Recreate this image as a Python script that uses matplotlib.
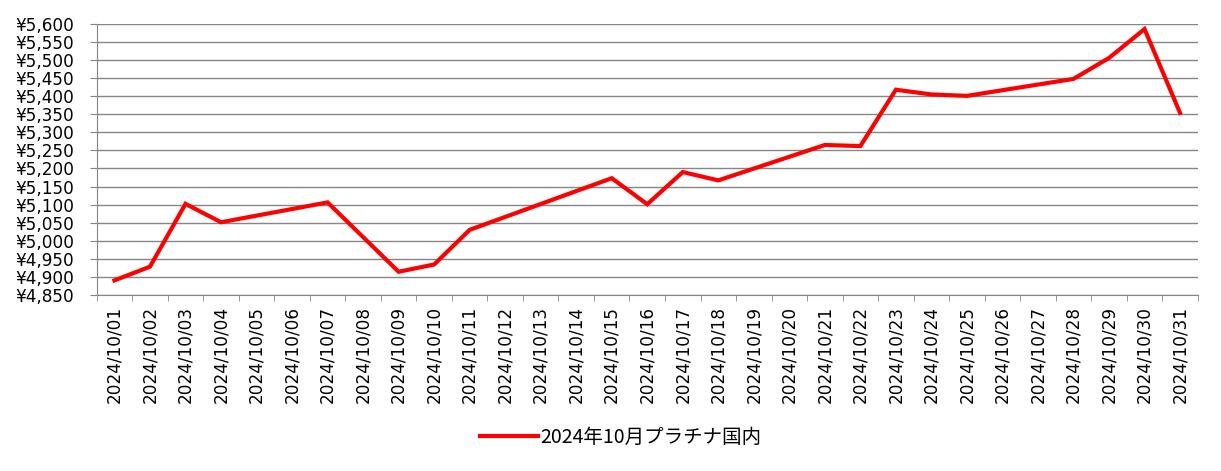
import numpy as np
import matplotlib
matplotlib.use("Agg")
import matplotlib.pyplot as plt
from matplotlib.ticker import FuncFormatter, MultipleLocator

plt.rcParams['font.family'] = ['Noto Sans CJK JP', 'DejaVu Sans']

# 日付ラベル（10月の全日）
dates = [f"2024/10/{d:02d}" for d in range(1, 32)]

# 価格（休日は None）
prices = [4890, 4928, 5102, 5051, None, None, 5106, 5010, 4914, 4934,
          5030, None, None, None, 5173, 5101, 5190, 5167, None, None,
          5265, 5262, 5418, 5405, 5401, None, None, 5448, 5506, 5586,
          5354]

series_label = "2024年10月プラチナ国内"

x = np.array([i for i, p in enumerate(prices) if p is not None])
y = np.array([p for p in prices if p is not None])

fig = plt.figure(figsize=(12.21, 4.71), dpi=100)
ax = fig.add_axes([0.0792, 0.374, 0.9018, 0.575])

ax.plot(x, y, color="#FF0000", linewidth=3, label=series_label,
        solid_joinstyle="miter", zorder=3)

ax.set_xlim(-0.5, len(dates) - 0.5)
ax.set_ylim(4850, 5600)
ax.yaxis.set_major_locator(MultipleLocator(50))
ax.yaxis.set_major_formatter(FuncFormatter(lambda v, p: f"¥{v:,.0f}"))
ax.grid(axis="y", color="#868686", linewidth=1)
ax.set_axisbelow(True)

ax.set_xticks(range(len(dates)))
ax.set_xticklabels(dates, rotation=90)
ax.set_xticks(np.arange(-0.5, len(dates), 1), minor=True)
ax.tick_params(axis="x", which="major", length=0, pad=8)
ax.tick_params(axis="x", which="minor", length=4.5, color="#868686")
ax.tick_params(axis="y", length=5, color="#868686", pad=11)

for lbl in ax.get_xticklabels() + ax.get_yticklabels():
    lbl.set_fontfamily("DejaVu Sans")
    lbl.set_fontsize(12.2)

for s in ["top", "right"]:
    ax.spines[s].set_visible(False)
for s in ["left", "bottom"]:
    ax.spines[s].set_color("#868686")

fig.legend(loc="center", bbox_to_anchor=(0.508, 0.072), frameon=False,
           fontsize=14, handlelength=3.0, handletextpad=0.1)

fig.savefig("out.png", dpi=100)
